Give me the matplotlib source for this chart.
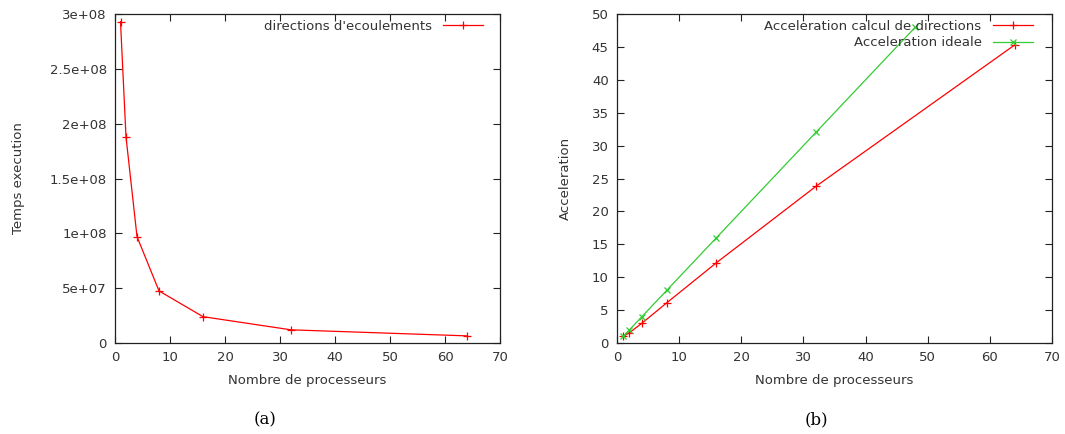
import numpy as np
import matplotlib
matplotlib.use('Agg')
import matplotlib.pyplot as plt

# data
procs = [1, 2, 4, 8, 16, 32, 64]
temps = [2.93e8, 1.88e8, 9.7e7, 4.75e7, 2.4e7, 1.2e7, 6.5e6]
accel = [1.0, 1.56, 3.0, 6.1, 12.2, 23.8, 45.3]
procs_ideal = [1, 2, 4, 8, 16, 32, 48]
accel_ideal = [1, 2, 4, 8, 16, 32, 48]

txt = '#333333'
plt.rcParams['font.family'] = 'DejaVu Sans'
plt.rcParams['font.size'] = 9.5

fig = plt.figure(figsize=(10.65, 4.34), dpi=100)
W, H = 1065.0, 434.0
ax1 = fig.add_axes([115/W, 1-343/H, 385/W, 329/H])
ax2 = fig.add_axes([617/W, 1-343/H, 435/W, 329/H])

def gnu_style(ax):
    ax.tick_params(direction='in', top=True, right=True, length=5, width=0.8,
                   colors='#222222', labelcolor=txt, labelsize=9.5, pad=6)
    for s in ax.spines.values():
        s.set_linewidth(0.9)
        s.set_color('#222222')

# (a) temps d'execution
ax1.plot(procs, temps, color='#ff0000', lw=0.9, marker='+', ms=5.5, mew=0.9,
         label="directions d'ecoulements")
ax1.set_xlim(0, 70)
ax1.set_ylim(0, 3e8)
ax1.set_xticks(np.arange(0, 71, 10))
ax1.set_yticks(np.arange(0, 3.01e8, 5e7))
ax1.set_yticklabels(['0', '5e+07', '1e+08', '1.5e+08', '2e+08', '2.5e+08', '3e+08'])
ax1.set_xlabel('Nombre de processeurs', color=txt, labelpad=7)
ax1.set_ylabel('Temps execution', color=txt, labelpad=18)
gnu_style(ax1)
ax1.legend(loc='upper right', frameon=False, markerfirst=False, handlelength=3.0,
           borderaxespad=0.0, labelcolor=txt, handletextpad=0.9, borderpad=0.0,
           bbox_to_anchor=(483/W, 1-20/H), bbox_transform=fig.transFigure)

# (b) acceleration
ax2.plot(procs, accel, color='#ff0000', lw=0.9, marker='+', ms=5.5, mew=0.9,
         label='Acceleration calcul de directions')
ax2.plot(procs_ideal, accel_ideal, color='#33cc33', lw=0.9, marker='x', ms=4.5, mew=0.9,
         label='Acceleration ideale')
ax2.set_xlim(0, 70)
ax2.set_ylim(0, 50)
ax2.set_xticks(np.arange(0, 71, 10))
ax2.set_yticks(np.arange(0, 51, 5))
ax2.set_xlabel('Nombre de processeurs', color=txt, labelpad=7)
ax2.set_ylabel('Acceleration', color=txt, labelpad=14)
gnu_style(ax2)
ax2.legend(loc='upper right', frameon=False, markerfirst=False, handlelength=3.0,
           borderaxespad=0.0, labelcolor=txt, handletextpad=0.9, labelspacing=0.25,
           borderpad=0.0, bbox_to_anchor=(1033/W, 1-20/H), bbox_transform=fig.transFigure)

fig.text(265/W, 1-420/H, '(a)', family='DejaVu Serif', fontsize=12, ha='center', va='center')
fig.text(816/W, 1-420/H, '(b)', family='DejaVu Serif', fontsize=12, ha='center', va='center')

fig.savefig('out.png', dpi=100)
